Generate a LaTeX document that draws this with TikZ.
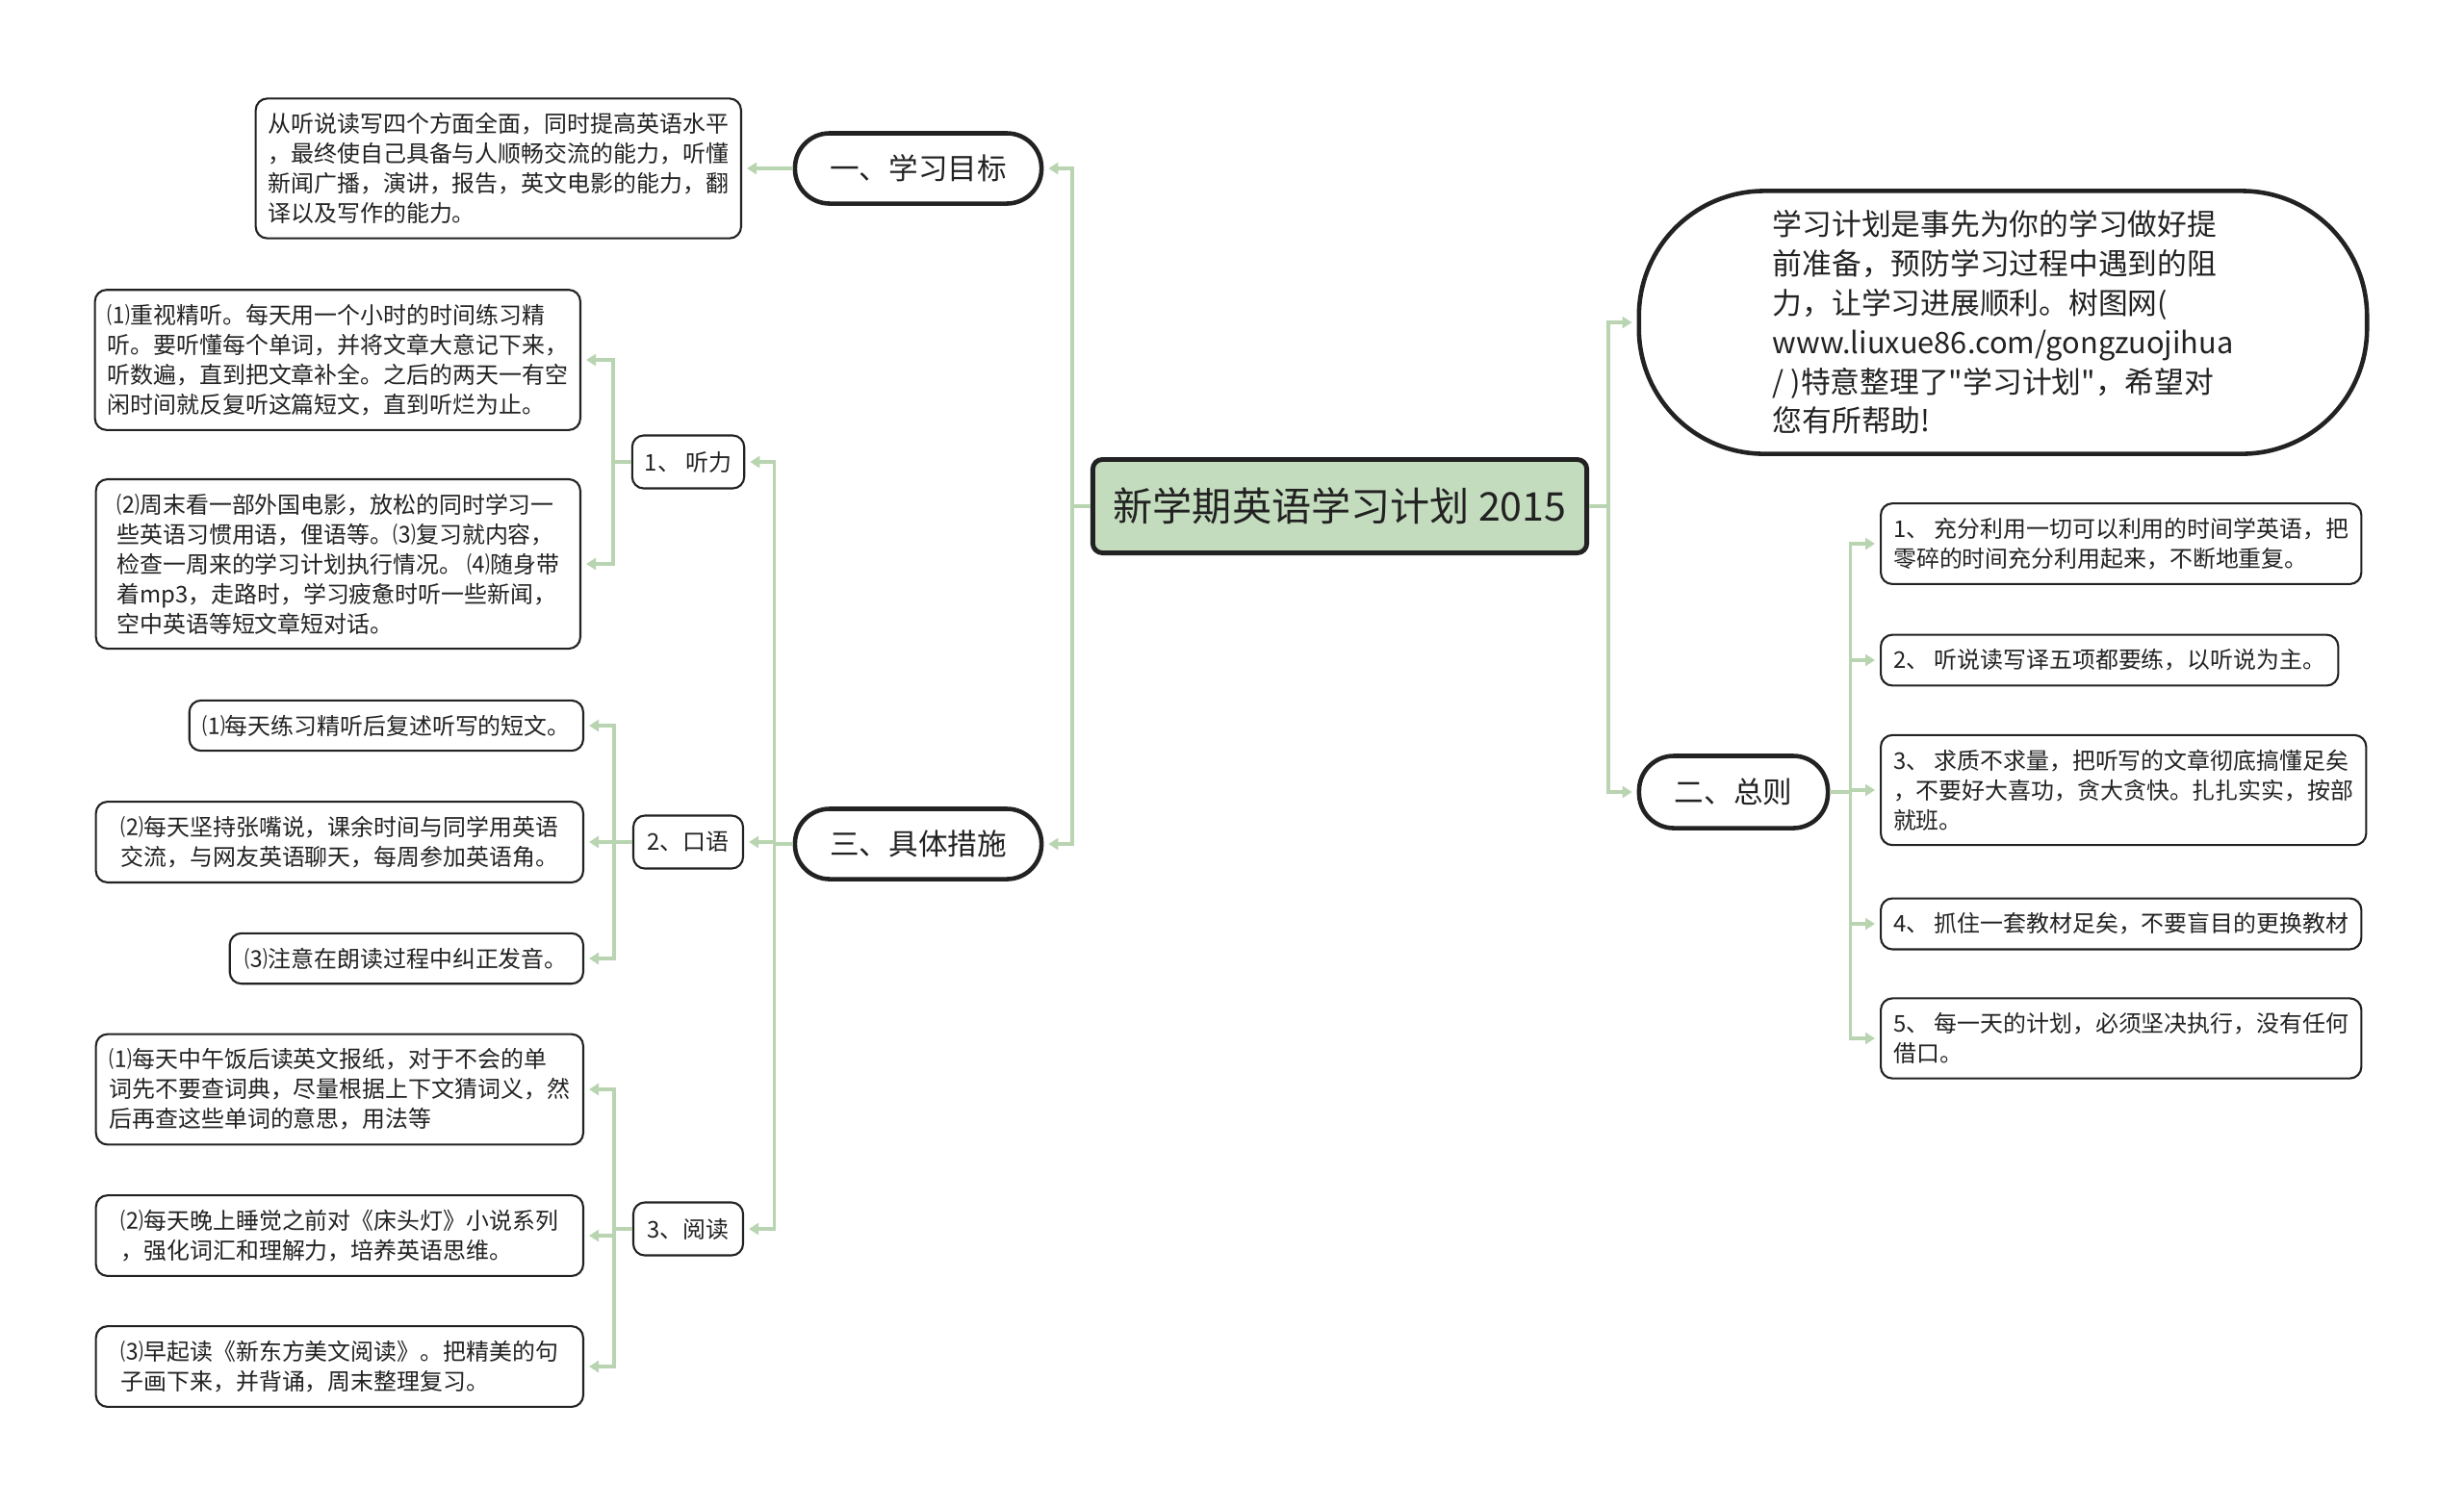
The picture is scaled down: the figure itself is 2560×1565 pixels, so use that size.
\documentclass[tikz,border=0pt]{standalone}
\usepackage{fontspec}
\setmainfont{Noto Sans CJK SC}[Ligatures=TeXOff]
\usetikzlibrary{arrows.meta}
\definecolor{linkgreen}{RGB}{184,212,176}
\definecolor{rootgreen}{RGB}{196,220,190}
\definecolor{ink}{RGB}{34,34,34}

\begin{document}
\begin{tikzpicture}[x=0.01cm, y=-0.01cm,
  leaf/.style={draw=ink, line width=0.6pt, rounded corners=0.12cm, align=left, inner xsep=0.13cm, inner ysep=0.15cm, text=ink, font={\fontsize{6.8}{8.8}\selectfont}},
  mid/.style={leaf, align=center, minimum width=1.14cm, minimum height=0.55cm},
  pill/.style={draw=ink, line width=1.3pt, rounded corners=0.36cm, minimum width=2.56cm, minimum height=0.73cm, text=ink, font={\fontsize{8.7}{10}\selectfont}},
  link/.style={draw=linkgreen, line width=1pt, -{Triangle[length=0.1cm, width=0.12cm]}, shorten >=0.05cm}]
\useasboundingbox (0,0) rectangle (2560,1565);

\node[draw=ink, line width=1.4pt, fill=rootgreen, rounded corners=0.1cm, minimum width=5.13cm, minimum height=0.97cm, text=ink, font={\fontsize{11.7}{14}\selectfont}] (r) at (1392,526) {新学期英语学习计划 2015};

\node[pill] (b1) at (954,175) {一、学习目标};
\node[pill] (b3) at (954,877) {三、具体措施};
\node[pill, minimum width=1.96cm, minimum height=0.75cm] (b2) at (1801,823) {二、总则};
\node[draw=ink, line width=1.3pt, rounded corners=1.3cm, minimum width=7.56cm, minimum height=2.73cm, align=left, text=ink, font={\fontsize{8.75}{11.6}\selectfont}] (n) at (2081,335) {学习计划是事先为你的学习做好提\\前准备，预防学习过程中遇到的阻\\力，让学习进展顺利。树图网(\\www.liuxue86.com/gongzuojihua\\/ )特意整理了"学习计划"，希望对\\您有所帮助!};

\node[leaf, anchor=east, minimum width=5.02cm] (a1) at (771,175) {从听说读写四个方面全面，同时提高英语水平\\，最终使自己具备与人顺畅交流的能力，听懂\\新闻广播，演讲，报告，英文电影的能力，翻\\译以及写作的能力。};

\node[mid] (c1) at (715,480) {1、 听力};
\node[mid] (c2) at (715,875) {2、口语};
\node[mid] (c3) at (715,1277) {3、阅读};

\node[leaf, anchor=east, minimum width=5.03cm] (d1) at (604,374) {⑴重视精听。每天用一个小时的时间练习精\\听。要听懂每个单词，并将文章大意记下来，\\听数遍，直到把文章补全。之后的两天一有空\\闲时间就反复听这篇短文，直到听烂为止。};
\node[leaf, anchor=east, minimum width=5.03cm] (d2) at (604,586) {⑵周末看一部外国电影，放松的同时学习一\\些英语习惯用语，俚语等。⑶复习就内容，\\检查一周来的学习计划执行情况。 ⑷随身带\\着mp3，走路时，学习疲惫时听一些新闻，\\空中英语等短文章短对话。};

\node[leaf, anchor=east, minimum width=4.09cm] (e1) at (607,754) {⑴每天练习精听后复述听写的短文。};
\node[leaf, anchor=east, minimum width=5.06cm] (e2) at (607,875) {⑵每天坚持张嘴说，课余时间与同学用英语\\交流，与网友英语聊天，每周参加英语角。};
\node[leaf, anchor=east, minimum width=3.67cm] (e3) at (607,996) {⑶注意在朗读过程中纠正发音。};

\node[leaf, anchor=east, minimum width=5.06cm] (f1) at (607,1132) {⑴每天中午饭后读英文报纸，对于不会的单\\词先不要查词典，尽量根据上下文猜词义，然\\后再查这些单词的意思，用法等};
\node[leaf, anchor=east, minimum width=5.06cm] (f2) at (607,1284) {⑵每天晚上睡觉之前对《床头灯》小说系列\\，强化词汇和理解力，培养英语思维。};
\node[leaf, anchor=east, minimum width=5.06cm] (f3) at (607,1420) {⑶早起读《新东方美文阅读》。把精美的句\\子画下来，并背诵，周末整理复习。};

\node[leaf, anchor=west, minimum width=4.99cm] (g1) at (1953,565) {1、 充分利用一切可以利用的时间学英语，把\\零碎的时间充分利用起来，不断地重复。};
\node[leaf, anchor=west, minimum width=4.75cm] (g2) at (1953,686) {2、 听说读写译五项都要练，以听说为主。};
\node[leaf, anchor=west, minimum width=4.99cm] (g3) at (1953,821) {3、 求质不求量，把听写的文章彻底搞懂足矣\\，不要好大喜功，贪大贪快。扎扎实实，按部\\就班。};
\node[leaf, anchor=west, minimum width=4.99cm] (g4) at (1953,960) {4、 抓住一套教材足矣，不要盲目的更换教材};
\node[leaf, anchor=west, minimum width=4.99cm] (g5) at (1953,1079) {5、 每一天的计划，必须坚决执行，没有任何\\借口。};

\draw[link] (r.west) -- ++(-19,0) |- (b1.east);
\draw[link] (r.west) -- ++(-19,0) |- (b3.east);
\draw[link] (r.east) -- ++(20,0) |- (n.west);
\draw[link] (r.east) -- ++(20,0) |- (b2.west);
\draw[link] (b1.west) -- (a1.east);
\draw[link] (b3.west) -- ++(-19,0) |- (c1.east);
\draw[link] (b3.west) -- ++(-19,0) |- (c2.east);
\draw[link] (b3.west) -- ++(-19,0) |- (c3.east);
\draw[link] (c1.west) -- ++(-19,0) |- (d1.east);
\draw[link] (c1.west) -- ++(-19,0) |- (d2.east);
\draw[link] (c2.west) -- ++(-19,0) |- (e1.east);
\draw[link] (c2.west) -- ++(-19,0) |- (e2.east);
\draw[link] (c2.west) -- ++(-19,0) |- (e3.east);
\draw[link] (c3.west) -- ++(-19,0) |- (f1.east);
\draw[link] (c3.west) -- ++(-19,0) |- (f2.east);
\draw[link] (c3.west) -- ++(-19,0) |- (f3.east);
\draw[link] (b2.east) -- ++(21,0) |- (g1.west);
\draw[link] (b2.east) -- ++(21,0) |- (g2.west);
\draw[link] (b2.east) -- ++(21,0) |- (g3.west);
\draw[link] (b2.east) -- ++(21,0) |- (g4.west);
\draw[link] (b2.east) -- ++(21,0) |- (g5.west);
\end{tikzpicture}
\end{document}
